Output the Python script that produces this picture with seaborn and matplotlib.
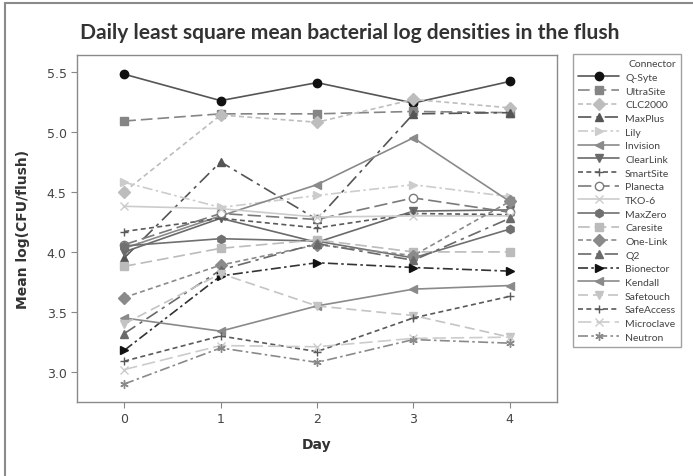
import matplotlib
matplotlib.use("Agg")
import matplotlib.pyplot as plt
import matplotlib.patches as mpatches
import seaborn as sns
import pandas as pd

days = [0, 1, 2, 3, 4]

connectors = [
    "Q-Syte", "UltraSite", "CLC2000", "MaxPlus", "Lily", "Invision",
    "ClearLink", "SmartSite", "Planecta", "TKO-6", "MaxZero", "Caresite",
    "One-Link", "Q2", "Bionector", "Kendall", "Safetouch", "SafeAccess",
    "Microclave", "Neutron",
]

q_syte = [5.48, 5.26, 5.41, 5.24, 5.42]
ultrasite = [5.09, 5.15, 5.15, 5.17, 5.16]
clc2000 = [4.50, 5.14, 5.08, 5.27, 5.20]
maxplus = [3.95, 4.75, 4.27, 5.15, 5.16]
lily = [4.58, 4.37, 4.47, 4.56, 4.46]
invision = [4.03, 4.30, 4.56, 4.95, 4.42]
clearlink = [4.00, 4.28, 4.08, 4.34, 4.35]
smartsite = [4.17, 4.28, 4.20, 4.32, 4.31]
planecta = [4.06, 4.32, 4.27, 4.45, 4.33]
tko6 = [4.38, 4.36, 4.29, 4.30, 4.30]
maxzero = [4.05, 4.11, 4.09, 3.95, 4.19]
caresite = [3.88, 4.03, 4.10, 4.00, 4.00]
one_link = [3.62, 3.89, 4.06, 3.97, 4.42]
q2 = [3.32, 3.85, 4.07, 3.93, 4.28]
bionector = [3.18, 3.80, 3.91, 3.87, 3.84]
kendall = [3.45, 3.34, 3.55, 3.69, 3.72]
safetouch = [3.40, 3.82, 3.55, 3.47, 3.29]
safeaccess = [3.09, 3.30, 3.17, 3.45, 3.63]
microclave = [3.02, 3.22, 3.21, 3.28, 3.29]
neutron = [2.90, 3.20, 3.08, 3.27, 3.24]

series = [q_syte, ultrasite, clc2000, maxplus, lily, invision, clearlink,
          smartsite, planecta, tko6, maxzero, caresite, one_link, q2,
          bionector, kendall, safetouch, safeaccess, microclave, neutron]

rows = []
for name, vals in zip(connectors, series):
    for d, v in zip(days, vals):
        rows.append({"Day": d, "Mean": v, "Connector": name})
df = pd.DataFrame(rows)

# grey-scale styling per connector: (line colour, marker, dash pattern, marker face)
styles = {
    "Q-Syte":     ("#555555", "o", None,             "#111111"),
    "UltraSite":  ("#858585", "s", (7, 3),           "#858585"),
    "CLC2000":    ("#bdbdbd", "D", (3, 2),           "#bdbdbd"),
    "MaxPlus":    ("#555555", "^", (8, 3, 2, 3),     "#555555"),
    "Lily":       ("#cccccc", ">", (6, 2, 1.5, 2),   "#cccccc"),
    "Invision":   ("#8a8a8a", "<", None,             "#8a8a8a"),
    "ClearLink":  ("#6a6a6a", "v", None,             "#6a6a6a"),
    "SmartSite":  ("#5a5a5a", "+", (3, 2),           "#5a5a5a"),
    "Planecta":   ("#7a7a7a", "o", (8, 3),           "white"),
    "TKO-6":      ("#cccccc", "x", None,             "#cccccc"),
    "MaxZero":    ("#707070", "h", None,             "#707070"),
    "Caresite":   ("#bbbbbb", "s", (7, 3),           "#bbbbbb"),
    "One-Link":   ("#8a8a8a", "D", (3, 2),           "#8a8a8a"),
    "Q2":         ("#6a6a6a", "^", (8, 3, 2, 3),     "#6a6a6a"),
    "Bionector":  ("#333333", ">", (6, 2, 1.5, 2),   "#111111"),
    "Kendall":    ("#8a8a8a", "<", None,             "#8a8a8a"),
    "Safetouch":  ("#c4c4c4", "v", (6, 3),           "#c4c4c4"),
    "SafeAccess": ("#5a5a5a", "+", (3, 2),           "#5a5a5a"),
    "Microclave": ("#cccccc", "x", (8, 3),           "#cccccc"),
    "Neutron":    ("#8a8a8a", (6, 2, 0), (6, 2, 1.5, 2), "#8a8a8a"),
}

sns.set_style("white")
plt.rcParams["font.family"] = ["DejaVu Sans"]

fig = plt.figure(figsize=(6.93, 4.77), dpi=100)
ax = fig.add_axes([77 / 693, 74 / 477, 480 / 693, 347 / 477])

for name in connectors:
    col, mk, ds, face = styles[name]
    sub = df[df["Connector"] == name]
    edge = "#111111" if name in ("Q-Syte", "Bionector") else col
    sns.lineplot(data=sub, x="Day", y="Mean", color=col, marker=mk,
                 markersize=6, markerfacecolor=face, markeredgecolor=edge,
                 markeredgewidth=1.0, linewidth=1.2, label=name, ax=ax)
    line = ax.lines[-1]
    if ds is not None:
        line.set_dashes(ds)

ax.set_xlim(-0.49, 4.49)
ax.set_ylim(2.75, 5.64)
ax.set_xticks(days)
ax.set_yticks([3.0, 3.5, 4.0, 4.5, 5.0, 5.5])
ax.set_yticklabels(["3.0", "3.5", "4.0", "4.5", "5.0", "5.5"])
ax.tick_params(axis="both", length=4, width=0.8, colors="#888888",
               labelcolor="#444444", labelsize=9, bottom=True, left=True)
for s in ax.spines.values():
    s.set_color("#8a8a8a")
    s.set_linewidth(1.0)

ax.set_xlabel("Day", fontsize=10, fontweight="bold", color="#333333",
              labelpad=8)
ax.set_ylabel("Mean log(CFU/flush)", fontsize=10, fontweight="bold",
              color="#333333", labelpad=12)

fig.text(80 / 693, 1 - 33 / 477,
         "Daily least square mean bacterial log densities in the flush",
         fontsize=15.1, fontweight="bold", color="#333333", va="center",
         ha="left", family=["Lato", "DejaVu Sans"])

handles, labels = ax.get_legend_handles_labels()
leg = ax.legend(handles, labels, title="Connector", loc="upper left",
                bbox_to_anchor=(573 / 693, 1 - 55 / 477),
                bbox_transform=fig.transFigure,
                prop={"family": ["Lato", "DejaVu Sans"], "size": 7.5},
                title_fontproperties={"family": ["Lato", "DejaVu Sans"],
                                      "size": 7.5},
                frameon=True, fancybox=False,
                borderaxespad=0, handlelength=3.9, labelspacing=0.42,
                borderpad=0.5, handletextpad=0.6, alignment="right")
leg.get_frame().set_edgecolor("#8a8a8a")
leg.get_frame().set_linewidth(1.0)
for t in leg.get_texts():
    t.set_color("#444444")
leg.get_title().set_color("#444444")

# outer frame
fig.patches.append(mpatches.Rectangle((5 / 693, -0.1), 1.2, 1 - 4 / 477 + 0.1,
                                      transform=fig.transFigure,
                                      fill=False, edgecolor="#8a8a8a",
                                      linewidth=1.5))

fig.savefig("out.png", dpi=100)
